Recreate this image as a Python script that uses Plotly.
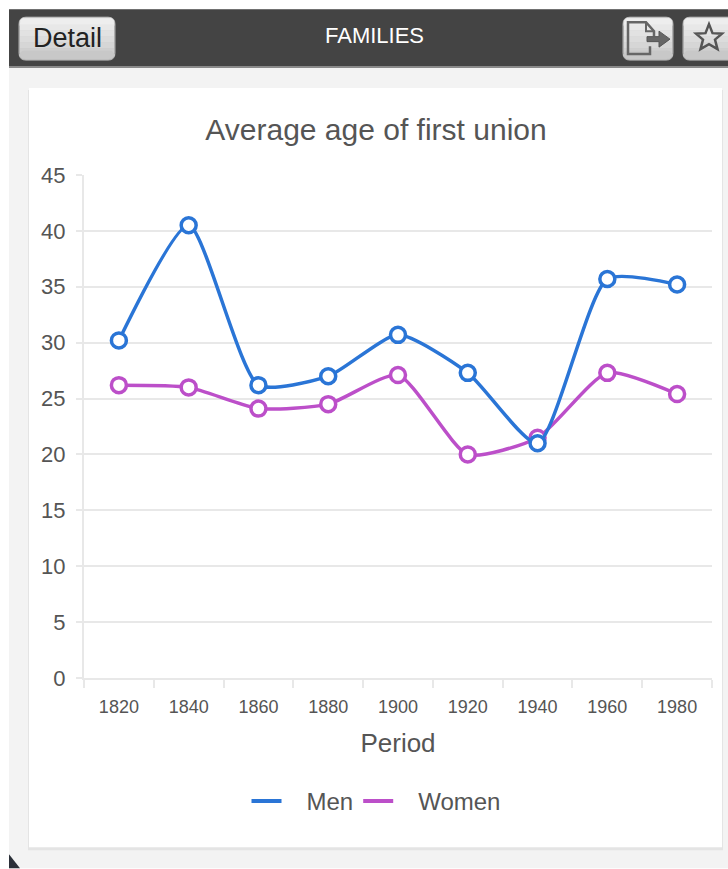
import plotly.graph_objects as go

periods = ["1820", "1840", "1860", "1880", "1900", "1920", "1940", "1960", "1980"]
men = [30.2, 40.5, 26.2, 27.0, 30.7, 27.3, 21.0, 35.7, 35.2]
women = [26.2, 26.0, 24.1, 24.5, 27.1, 20.0, 21.5, 27.3, 25.4]
y_ticks = [0, 5, 10, 15, 20, 25, 30, 35, 40, 45]

MEN = "#2a75d6"
WOMEN = "#bc4fc9"
FONT = "Liberation Sans"
L, R, T, B = 84.0, 712.0, 175.0, 678.5

def X(p):
    return (p - L) / (R - L)

def Y(p):
    return (B - p) / (B - T)

def rect(x0, y0, x1, y1, fill, line=None, r=0):
    if r:
        def P(a, b):
            return f"{X(a):.5f},{Y(b):.5f}"
        path = (f"M{P(x0+r,y0)} L{P(x1-r,y0)} Q{P(x1,y0)} {P(x1,y0+r)} L{P(x1,y1-r)} "
                f"Q{P(x1,y1)} {P(x1-r,y1)} L{P(x0+r,y1)} Q{P(x0,y1)} {P(x0,y1-r)} "
                f"L{P(x0,y0+r)} Q{P(x0,y0)} {P(x0+r,y0)} Z")
        return dict(type="path", xref="paper", yref="paper", path=path, fillcolor=fill,
                    line=dict(color=line or fill, width=1), layer="below")
    return dict(type="rect", xref="paper", yref="paper", x0=X(x0), x1=X(x1), y0=Y(y0), y1=Y(y1),
                fillcolor=fill, line=dict(width=0), layer="below")

def poly(points, line="#555555", width=2, fill="rgba(0,0,0,0)", close=False):
    d = "M" + " L".join(f"{X(a):.5f},{Y(b):.5f}" for a, b in points) + (" Z" if close else "")
    return dict(type="path", xref="paper", yref="paper", path=d, fillcolor=fill,
                line=dict(color=line, width=width), layer="below")

shapes = [
    rect(-10, -10, 740, 880, "#ffffff"),
    rect(9, 9, 728, 869, "#f3f3f3"),
    rect(9, 9, 728, 67, "#444444"),
    rect(9, 66, 728, 68, "#8a8a8a"),
    rect(28, 90, 723, 851, "#e4e4e4"),
    rect(29, 88, 722, 848, "#ffffff"),
    poly([(9, 855), (20, 869), (9, 869)], "#2a2f38", 0, "#2a2f38", True),
]
BANDS = ["#eeeeee", "#e8e8e8", "#e2e2e2", "#dcdcdc", "#d6d6d6", "#cfcfcf", "#c8c8c8"]
for x0, x1 in [(19, 115), (623, 673), (683, 740)]:
    shapes.append(rect(x0, 17, x1, 60, "#b0b0b0", "#b0b0b0", r=7))
    for i, c in enumerate(BANDS):
        y0 = 18 + i * 6
        y1 = min(y0 + 6.5, 59)
        if i == 0:
            shapes.append(rect(x0 + 1, y0, x1 - 1, y1 + 4, c, c, r=5))
        elif i == len(BANDS) - 1:
            shapes.append(rect(x0 + 1, y0 - 3, x1 - 1, y1, c, c, r=5))
        else:
            shapes.append(rect(x0 + 1, y0, x1 - 1, y1, c))
shapes += [
    poly([(650, 46), (650, 54), (628, 54), (628, 22), (646, 22), (654, 31), (654, 36)], "#666666", 2.5),
    poly([(646, 22), (646, 31), (654, 31)], "#666666", 2),
    poly([(647, 36.5), (659, 36.5), (659, 31), (670, 39), (659, 47), (659, 41.5), (647, 41.5)],
         "#555555", 1, "#666666", True),
    poly([(709, 24), (712.5, 33), (722, 33.5), (715, 39.5), (717.5, 49), (709, 44),
          (700.5, 49), (703, 39.5), (696, 33.5), (705.5, 33)], "#555555", 2.5, close=True),
]

fig = go.Figure()
for name, values, color in [("Women", women, WOMEN), ("Men", men, MEN)]:
    fig.add_trace(go.Scatter(
        x=periods, y=values, name=name, mode="lines+markers", showlegend=False,
        line=dict(color=color, width=3.5, shape="spline", smoothing=0.6),
        marker=dict(size=15, color="#ffffff", line=dict(color=color, width=3.5)),
        hoverinfo="x+y",
    ))
for name, color in [("\u00a0\u00a0\u00a0Men", MEN), ("\u00a0\u00a0\u00a0Women", WOMEN)]:
    fig.add_trace(go.Scatter(x=[None], y=[None], name=name, mode="lines",
                             line=dict(color=color, width=4)))

fig.update_layout(
    width=728, height=869, autosize=False,
    margin=dict(l=84, r=16, t=175, b=190.5, pad=0),
    paper_bgcolor="#ffffff", plot_bgcolor="rgba(0,0,0,0)",
    font=dict(family=FONT, color="#555555", size=21),
    shapes=shapes,
    xaxis=dict(
        type="category", tickmode="array", tickvals=periods, ticktext=periods,
        tickson="boundaries", ticks="outside", ticklen=8, tickcolor="#e8e8e8", tickwidth=2,
        showgrid=False, showline=True, linecolor="#e8e8e8", linewidth=2, zeroline=False,
        ticklabelstandoff=11,
        tickfont=dict(size=18, color="#555555"),
        title=dict(text="Period", font=dict(size=26, color="#555555"), standoff=18),
        range=[-0.5, 8.5],
    ),
    yaxis=dict(
        range=[0, 45], tickmode="array", tickvals=y_ticks,
        ticks="outside", ticklen=6, tickcolor="#e8e8e8", tickwidth=2,
        showgrid=True, gridcolor="#e8e8e8", gridwidth=2, zeroline=False,
        showline=True, linecolor="#e8e8e8", linewidth=2,
        ticklabelstandoff=6,
        tickfont=dict(size=22, color="#555555"),
    ),
    title=dict(text="Average age of first union", x=376 / 728, xanchor="center",
               y=1 - 129 / 869, yanchor="middle", font=dict(size=30, color="#555555")),
    legend=dict(orientation="h", x=X(376), xanchor="center", y=Y(802), yanchor="middle",
                font=dict(size=24, color="#555555"), itemwidth=30,
                bgcolor="rgba(0,0,0,0)"),
    annotations=[
        dict(text="FAMILIES", x=X(374), y=Y(35), xref="paper", yref="paper", showarrow=False,
             xanchor="center", yanchor="middle",
             font=dict(size=22, color="#ffffff", family=FONT)),
        dict(text="Detail", x=X(67), y=Y(38), xref="paper", yref="paper", showarrow=False,
             xanchor="center", yanchor="middle",
             font=dict(size=27, color="#222222", family=FONT)),
    ],
)

fig.write_html("out.html", config=dict(displayModeBar=False),
               post_script="document.body.style.margin='0';document.documentElement.style.overflow='hidden';")
